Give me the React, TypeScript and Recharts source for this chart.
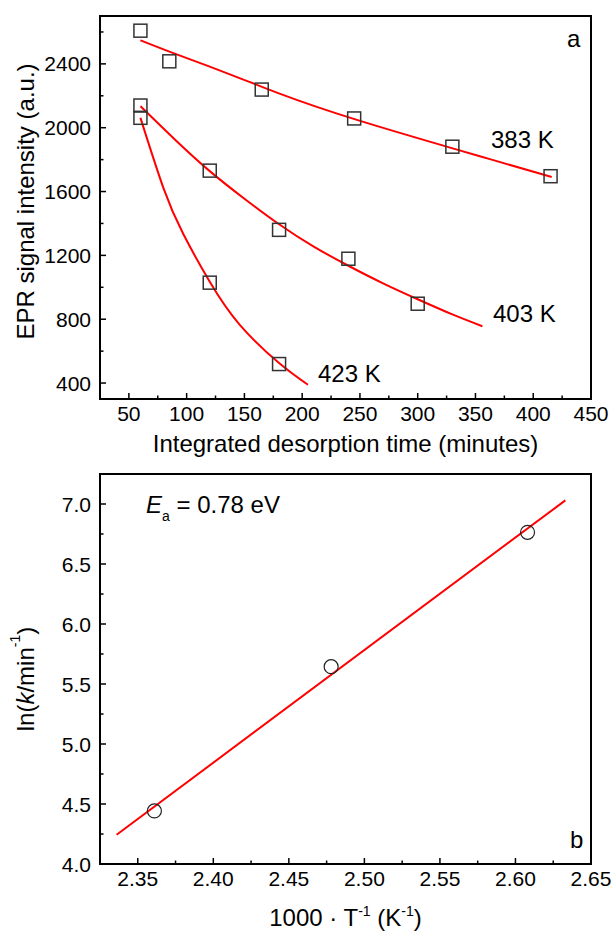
import React from 'react';
import {
  ComposedChart,
  Line,
  Scatter,
  XAxis,
  YAxis,
  ReferenceArea,
  Label,
} from 'recharts';

const FONT = "'Liberation Sans', Arial, sans-serif";

// panel a: EPR intensity vs integrated desorption time
const time383 = [60, 85, 165, 245, 330, 415];
const epr383 = [2608, 2416, 2239, 2058, 1881, 1696];
const time403 = [60, 120, 180, 240, 300];
const epr403 = [2139, 1731, 1360, 1179, 897];
const time423 = [60, 120, 180];
const epr423 = [2062, 1029, 519];

// fitted decay curves
const fitTime383 = [60, 92, 138, 181, 246, 331, 364, 416];
const fitEpr383 = [2548, 2458, 2333, 2212, 2052, 1869, 1800, 1691];
const fitTime403 = [60, 90, 120, 150, 180, 210, 240, 270, 300, 330, 356];
const fitEpr403 = [2135, 1925, 1728, 1555, 1395, 1255, 1135, 1025, 925, 830, 756];
const fitTime423 = [60, 80, 97, 120, 146, 180, 205];
const fitEpr423 = [2062, 1620, 1335, 1035, 765, 525, 389];

const ticksTime = [50, 75, 100, 125, 150, 175, 200, 225, 250, 275, 300, 325, 350, 375, 400, 425, 450];
const ticksEpr = [400, 600, 800, 1000, 1200, 1400, 1600, 1800, 2000, 2200, 2400, 2600];

// panel b: Arrhenius plot
const invT = [2.361, 2.478, 2.608];
const lnK = [4.442, 5.644, 6.764];
const fitInvT = [2.336, 2.633];
const fitLnK = [4.244, 7.03];

const ticksInvT = [2.35, 2.375, 2.4, 2.425, 2.45, 2.475, 2.5, 2.525, 2.55, 2.575, 2.6, 2.625, 2.65];
const ticksLnK = [4.0, 4.25, 4.5, 4.75, 5.0, 5.25, 5.5, 5.75, 6.0, 6.25, 6.5, 6.75, 7.0];

const zip = (xs: number[], ys: number[], kx: string, ky: string) =>
  xs.map((x, i) => ({ [kx]: x, [ky]: ys[i] }));

const BottomTick = (props: any) => {
  const { x, y, payload, isMajor, format } = props;
  const major = isMajor(payload.value);
  return (
    <g>
      <line x1={x} y1={y} x2={x} y2={y - (major ? 6 : 3.5)} stroke="#000" strokeWidth={1.5} />
      {major && (
        <text x={x} y={y + 22} textAnchor="middle" fontSize={21} fontFamily={FONT} fill="#000">
          {format(payload.value)}
        </text>
      )}
    </g>
  );
};

const LeftTick = (props: any) => {
  const { x, y, payload, isMajor, format } = props;
  const major = isMajor(payload.value);
  return (
    <g>
      <line x1={x} y1={y} x2={x + (major ? 6 : 3.5)} y2={y} stroke="#000" strokeWidth={1.5} />
      {major && (
        <text x={x - 9} y={y + 7.5} textAnchor="end" fontSize={21} fontFamily={FONT} fill="#000">
          {format(payload.value)}
        </text>
      )}
    </g>
  );
};

const Square = (props: any) => {
  const { cx, cy } = props;
  return <rect x={cx - 6.5} y={cy - 6.5} width={13} height={13} fill="none" stroke="#333" strokeWidth={1.5} />;
};

const Ring = (props: any) => {
  const { cx, cy } = props;
  return <circle cx={cx} cy={cy} r={7} fill="none" stroke="#222" strokeWidth={1.2} />;
};

const axisLine = { stroke: '#000', strokeWidth: 2 };

const PanelA = () => (
  <ComposedChart width={611} height={460} margin={{ top: 16, right: 20, left: 40, bottom: 21 }}>
    <XAxis
      type="number"
      dataKey="t"
      domain={[25, 450]}
      ticks={ticksTime}
      interval={0}
      height={40}
      axisLine={axisLine}
      tickLine={false}
      tickSize={0}
      tickMargin={0}
      tick={(p: any) => (
        <BottomTick {...p} isMajor={(v: number) => v % 50 === 0} format={(v: number) => String(v)} />
      )}
    >
      <Label
        content={(p: any) => {
          const vb = p.viewBox;
          return (
            <text x={vb.x + vb.width / 2} y={vb.y + 53} textAnchor="middle" fontSize={24} fontFamily={FONT} fill="#000">
              Integrated desorption time (minutes)
            </text>
          );
        }}
      />
    </XAxis>
    <YAxis
      type="number"
      dataKey="v"
      domain={[300, 2700]}
      ticks={ticksEpr}
      interval={0}
      width={60}
      axisLine={axisLine}
      tickLine={false}
      tickSize={0}
      tickMargin={0}
      tick={(p: any) => (
        <LeftTick {...p} isMajor={(v: number) => v % 400 === 0} format={(v: number) => String(v)} />
      )}
    >
      <Label
        content={(p: any) => {
          const vb = p.viewBox;
          const cx = vb.x - 15;
          const cy = vb.y + vb.height / 2 - 6;
          return (
            <text
              x={cx}
              y={cy}
              transform={`rotate(-90, ${cx}, ${cy})`}
              textAnchor="middle"
              dominantBaseline="central"
              fontSize={24}
              fontFamily={FONT}
              fill="#000"
            >
              EPR signal intensity (a.u.)
            </text>
          );
        }}
      />
    </YAxis>
    <ReferenceArea x1={25} x2={450} y1={300} y2={2700} fill="none" stroke="#000" strokeWidth={2} />
    <Line data={zip(fitTime383, fitEpr383, 't', 'v')} dataKey="v" type="natural" stroke="#ff0000" strokeWidth={2} dot={false} isAnimationActive={false} />
    <Line data={zip(fitTime403, fitEpr403, 't', 'v')} dataKey="v" type="natural" stroke="#ff0000" strokeWidth={2} dot={false} isAnimationActive={false} />
    <Line data={zip(fitTime423, fitEpr423, 't', 'v')} dataKey="v" type="natural" stroke="#ff0000" strokeWidth={2} dot={false} isAnimationActive={false} />
    <Scatter data={zip(time383, epr383, 't', 'v')} shape={Square} isAnimationActive={false} />
    <Scatter data={zip(time403, epr403, 't', 'v')} shape={Square} isAnimationActive={false} />
    <Scatter data={zip(time423, epr423, 't', 'v')} shape={Square} isAnimationActive={false} />
  </ComposedChart>
);

const PanelB = () => (
  <ComposedChart width={611} height={472} margin={{ top: 14, right: 20, left: 40, bottom: 28 }}>
    <XAxis
      type="number"
      dataKey="x"
      domain={[2.325, 2.65]}
      ticks={ticksInvT}
      interval={0}
      height={40}
      axisLine={axisLine}
      tickLine={false}
      tickSize={0}
      tickMargin={0}
      tick={(p: any) => (
        <BottomTick
          {...p}
          isMajor={(v: number) => Math.round(v * 1000) % 50 === 0}
          format={(v: number) => v.toFixed(2)}
        />
      )}
    >
      <Label
        content={(p: any) => {
          const vb = p.viewBox;
          return (
            <text x={vb.x + vb.width / 2} y={vb.y + 62} textAnchor="middle" fontSize={24} fontFamily={FONT} fill="#000">
              1000 · T<tspan dy={-10} fontSize={14}>-1</tspan>
              <tspan dy={10}> (K</tspan>
              <tspan dy={-10} fontSize={14}>-1</tspan>
              <tspan dy={10}>)</tspan>
            </text>
          );
        }}
      />
    </XAxis>
    <YAxis
      type="number"
      dataKey="y"
      domain={[4.0, 7.25]}
      ticks={ticksLnK}
      interval={0}
      width={60}
      axisLine={axisLine}
      tickLine={false}
      tickSize={0}
      tickMargin={0}
      tick={(p: any) => (
        <LeftTick
          {...p}
          isMajor={(v: number) => Math.round(v * 100) % 50 === 0}
          format={(v: number) => v.toFixed(1)}
        />
      )}
    >
      <Label
        content={(p: any) => {
          const vb = p.viewBox;
          const cx = vb.x - 15;
          const cy = vb.y + vb.height / 2 + 10;
          return (
            <text
              x={cx}
              y={cy}
              transform={`rotate(-90, ${cx}, ${cy})`}
              textAnchor="middle"
              dominantBaseline="central"
              fontSize={24}
              fontFamily={FONT}
              fill="#000"
            >
              ln(<tspan fontStyle="italic">k</tspan>/min
              <tspan dy={-10} fontSize={14}>-1</tspan>
              <tspan dy={10}>)</tspan>
            </text>
          );
        }}
      />
    </YAxis>
    <ReferenceArea x1={2.325} x2={2.65} y1={4.0} y2={7.25} fill="none" stroke="#000" strokeWidth={2} />
    <Line data={zip(fitInvT, fitLnK, 'x', 'y')} dataKey="y" type="linear" stroke="#ff0000" strokeWidth={2} dot={false} isAnimationActive={false} />
    <Scatter data={zip(invT, lnK, 'x', 'y')} shape={Ring} isAnimationActive={false} />
  </ComposedChart>
);

const textStyle = { fontFamily: FONT, fill: '#000' };

export default function App() {
  return (
    <div style={{ position: 'absolute', left: 0, top: 0, width: 611, height: 932, background: '#fff' }}>
      <div style={{ position: 'absolute', left: 0, top: 0 }}>
        <PanelA />
      </div>
      <div style={{ position: 'absolute', left: 0, top: 460 }}>
        <PanelB />
      </div>
      <svg width={611} height={932} style={{ position: 'absolute', left: 0, top: 0, pointerEvents: 'none' }}>
        <text x={567} y={47} fontSize={24} style={textStyle}>a</text>
        <text x={491} y={148} fontSize={24} style={textStyle}>383 K</text>
        <text x={493} y={322} fontSize={24} style={textStyle}>403 K</text>
        <text x={318} y={382} fontSize={24} style={textStyle}>423 K</text>
        <text x={146} y={513} fontSize={24} style={textStyle}>
          <tspan fontStyle="italic">E</tspan>
          <tspan dy={8} fontSize={14}>a</tspan>
          <tspan dy={-8}> = 0.78 eV</tspan>
        </text>
        <text x={570} y={848} fontSize={24} style={textStyle}>b</text>
      </svg>
    </div>
  );
}
